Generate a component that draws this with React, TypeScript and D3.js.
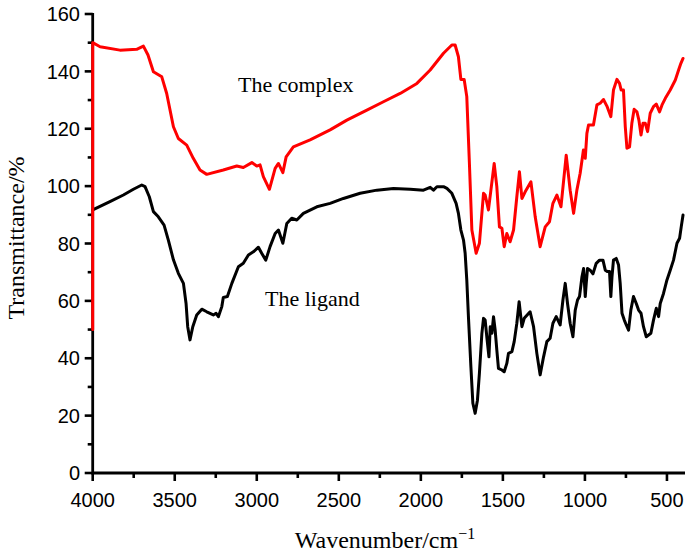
import React from "react";
import * as d3 from "d3";

const complexWn = [4000,4000,3955,3834,3732,3691,3663,3630,3579,3549,3508,3478,3427,3387,3346,3305,3204,3122,3082,3030,3000,2980,2960,2923,2888,2868,2841,2821,2777,2675,2553,2451,2329,2228,2126,2024,1943,1862,1811,1791,1771,1756,1736,1720,1704,1689,1663,1643,1618,1608,1588,1573,1553,1537,1521,1506,1492,1476,1456,1435,1415,1399,1384,1364,1329,1303,1273,1242,1216,1195,1171,1146,1114,1090,1069,1049,1029,1009,998,988,978,948,927,907,887,866,842,826,805,789,779,765,754,744,728,714,700,683,671,658,646,632,618,602,582,565,545,530,510,480,449,429,415,402];
const complexT = [50,150,148.6,147.4,147.7,148.8,145.7,139.9,138.1,132.3,120.7,116.6,114.3,109.7,105.6,104.1,105.6,107.0,106.5,108.2,107.0,107.4,103.3,98.9,106.2,107.9,104.7,110.2,113.7,116.1,119.6,123.0,126.5,129.4,132.3,135.8,140.5,146.3,149.2,149.2,145.1,137.2,137.2,131.2,107.9,84.7,76.6,80.1,97.5,96.9,91.7,98.6,107.9,99.8,85.8,85.3,78.9,83.5,80.6,84.7,96.3,105.0,95.7,98.0,101.5,89.3,78.9,85.8,87.6,94.0,96.9,92.8,110.8,98.6,90.5,98.6,104.5,112.6,109.7,118.4,121.3,121.3,128.3,128.9,130.2,127.9,124.2,133.5,137.2,135.8,133.5,133.5,120.7,113.2,113.7,121.9,126.8,125.9,123.0,117.8,121.9,121.9,119.0,125.4,127.7,128.6,125.9,128.3,130.6,133.5,137.0,140.5,142.8,144.5];

const ligandWn = [4000,3895,3813,3752,3701,3681,3655,3630,3600,3565,3539,3508,3478,3447,3431,3421,3407,3390,3366,3335,3305,3265,3248,3234,3213,3204,3179,3152,3112,3082,3051,3021,2990,2970,2945,2919,2888,2868,2841,2817,2787,2756,2716,2634,2553,2472,2370,2268,2167,2065,1984,1943,1923,1902,1862,1841,1811,1785,1771,1756,1740,1730,1720,1710,1695,1683,1669,1655,1643,1628,1618,1608,1598,1585,1577,1567,1557,1547,1537,1527,1506,1492,1476,1466,1445,1431,1415,1401,1384,1370,1334,1313,1293,1273,1252,1232,1212,1195,1175,1151,1134,1120,1106,1090,1073,1059,1045,1033,1018,1008,998,992,984,968,951,931,911,890,876,862,850,842,835,826,809,795,785,774,760,748,734,720,704,687,673,658,643,626,612,598,582,565,551,541,521,500,480,460,439,423,413,402];
const ligandT = [91.7,94.6,96.9,98.9,100.4,99.8,96.3,91.1,89.3,86.4,81.2,74.3,69.6,66.1,59.1,51.0,46.4,51.0,55.1,57.1,56.2,55.1,55.7,54.5,58.0,61.2,61.5,66.1,71.9,73.1,76.0,77.1,78.7,76.6,74.2,78.9,83.5,84.7,80.1,87.0,88.8,88.2,90.5,92.8,94.0,95.7,97.5,98.6,99.2,98.9,98.6,99.6,98.6,99.8,99.8,99.2,97.5,94.0,90.5,84.7,81.2,76.6,67.3,54.5,37.1,24.3,20.8,25.4,34.8,48.7,53.9,53.3,47.5,40.5,51.0,48.7,54.5,49.8,42.9,36.5,35.9,35.3,38.2,41.7,42.3,45.8,52.2,59.7,51.0,53.9,56.2,51.0,41.7,34.2,40.5,45.8,47.0,52.2,54.5,51.6,60.3,66.1,59.1,52.2,47.5,56.8,60.3,61.5,68.4,71.3,61.5,66.1,71.3,70.7,69.4,73.1,74.2,74.2,70.7,70.2,70.2,61.5,68.4,74.2,74.8,72.5,66.1,55.7,53.3,51.6,49.8,56.8,61.5,59.1,56.8,55.7,51.0,47.5,48.1,48.7,53.3,57.4,54.5,59.1,62.6,67.3,70.7,74.2,80.1,81.8,85.8,89.9];

const xMajorTicks = [4000, 3500, 3000, 2500, 2000, 1500, 1000, 500];
const xMinorTicks = [3750, 3250, 2750, 2250, 1750, 1250, 750];
const yMajorTicks = [0, 20, 40, 60, 80, 100, 120, 140, 160];
const yMinorTicks = [10, 30, 50, 70, 90, 110, 130, 150];

export default function App() {
  const W = 685, H = 556;
  const x = d3.scaleLinear().domain([4000, 390]).range([92.7, 685]);
  const y = d3.scaleLinear().domain([0, 160]).range([473, 14]);
  const line = d3.line<[number, number]>().x(d => x(d[0])).y(d => y(d[1]));
  const complexPts = complexWn.map((w, i) => [w, complexT[i]] as [number, number]);
  const ligandPts = ligandWn.map((w, i) => [w, ligandT[i]] as [number, number]);
  const sans = "'Liberation Sans', Arial, sans-serif";
  const serif = "'Liberation Serif', 'Times New Roman', serif";
  const x0 = x(4000), yb = y(0);
  return (
    <svg width={W} height={H} style={{ position: "absolute", left: 0, top: 0, background: "#fff" }}>
      {/* axes */}
      <line x1={x0} x2={685} y1={yb} y2={yb} stroke="#000" strokeWidth={2.8} />
      <line x1={x0} x2={x0} y1={y(160) - 1} y2={yb + 1.4} stroke="#000" strokeWidth={2.8} />
      {xMajorTicks.map(t => (
        <g key={"xM" + t}>
          <line x1={x(t)} x2={x(t)} y1={yb} y2={yb + 8} stroke="#000" strokeWidth={2.6} />
          <text x={x(t)} y={507} textAnchor="middle" fontFamily={sans} fontSize={20}>{t}</text>
        </g>
      ))}
      {xMinorTicks.map(t => (
        <line key={"xm" + t} x1={x(t)} x2={x(t)} y1={yb} y2={yb + 5} stroke="#000" strokeWidth={2.6} />
      ))}
      {yMajorTicks.map(t => (
        <g key={"yM" + t}>
          <line x1={x0 - 8} x2={x0} y1={y(t)} y2={y(t)} stroke="#000" strokeWidth={2.6} />
          <text x={80} y={y(t)} dy="0.36em" textAnchor="end" fontFamily={sans} fontSize={20}>{t}</text>
        </g>
      ))}
      {yMinorTicks.map(t => (
        <line key={"ym" + t} x1={x0 - 5} x2={x0} y1={y(t)} y2={y(t)} stroke="#000" strokeWidth={2.6} />
      ))}
      {/* curves */}
      <path d={line(ligandPts) || ""} fill="none" stroke="#000" strokeWidth={3} strokeLinejoin="round" strokeLinecap="round" />
      <path d={line(complexPts) || ""} fill="none" stroke="#ff0000" strokeWidth={3} strokeLinejoin="round" strokeLinecap="round" />
      {/* labels */}
      <text x={238} y={92} fontFamily={serif} fontSize={22}>The complex</text>
      <text x={265} y={306} fontFamily={serif} fontSize={22}>The ligand</text>
      <text x={385} y={548} textAnchor="middle" fontFamily={serif} fontSize={24}>
        Wavenumber/cm<tspan dy={-9} fontSize={16}>−1</tspan>
      </text>
      <text transform="translate(24,238) rotate(-90)" textAnchor="middle" fontFamily={serif} fontSize={24}>Transmittance/%</text>
    </svg>
  );
}
